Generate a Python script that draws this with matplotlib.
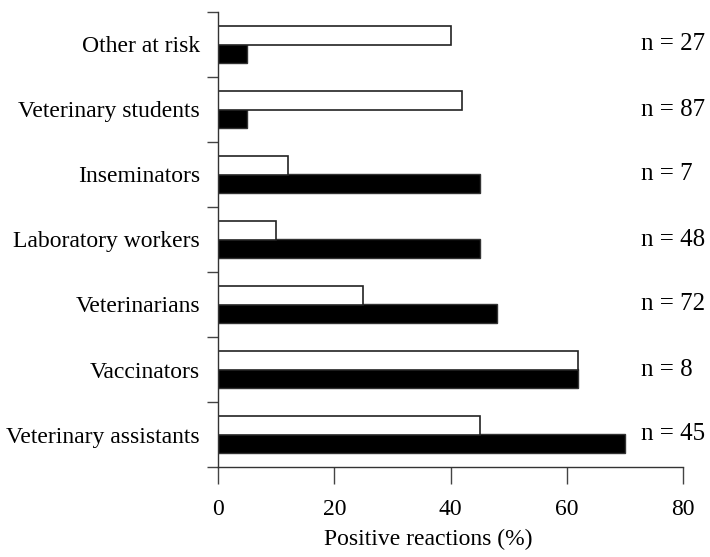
import matplotlib
matplotlib.use("Agg")
import matplotlib.pyplot as plt
import numpy as np

categories = ["Veterinary assistants", "Vaccinators", "Veterinarians",
              "Laboratory workers", "Inseminators", "Veterinary students",
              "Other at risk"]
white_vals = [45, 62, 25, 10, 12, 42, 40]
black_vals = [70, 62, 48, 45, 45, 5, 5]
n_labels = ["n = 45", "n = 8", "n = 72", "n = 48", "n = 7", "n = 87", "n = 27"]
xticks = [0, 20, 40, 60, 80]

plt.rcParams['font.family'] = ['Liberation Serif', 'DejaVu Serif']
FS = 17

fig = plt.figure(figsize=(7.1, 5.57), dpi=100)
ax = fig.add_axes([218/710, 1-467/557, (683-218)/710, (467-12)/557])

y = np.arange(len(categories))
h = 0.29
ax.barh(y - h/2, black_vals, height=h, color="black", edgecolor="#333333", linewidth=1)
ax.barh(y + h/2, white_vals, height=h, color="white", edgecolor="#222222", linewidth=1.2)

ax.set_xlim(0, 80)
ax.set_ylim(-0.5, len(categories) - 0.5)
ax.set_xticks(xticks)
ax.set_xticklabels([str(t) for t in xticks], fontsize=FS)
ax.set_yticks(y)
ax.set_yticklabels(categories, fontsize=FS)
ax.set_yticks(np.arange(-0.5, len(categories), 1), minor=True)
ax.tick_params(axis='y', which='major', length=0, pad=13)
ax.tick_params(axis='y', which='minor', length=8, width=1, direction='out', color="#444444")
ax.tick_params(axis='x', which='major', length=12, width=1, direction='out', pad=11, color="#444444")

for s in ["top", "right"]:
    ax.spines[s].set_visible(False)
for s in ["left", "bottom"]:
    ax.spines[s].set_linewidth(1)
    ax.spines[s].set_color("#333333")

ax.set_xlabel("Positive reactions (%)", fontsize=FS)
ax.xaxis.set_label_coords((428-218)/465, (467-539)/455)
ax.xaxis.label.set_va("center")

for yi, lab in zip(y, n_labels):
    ax.text(1.0 + (641-683)/465, yi, lab, transform=ax.get_yaxis_transform(),
            fontsize=18, va="center", ha="left", clip_on=False)

fig.savefig("out.png", dpi=100)
